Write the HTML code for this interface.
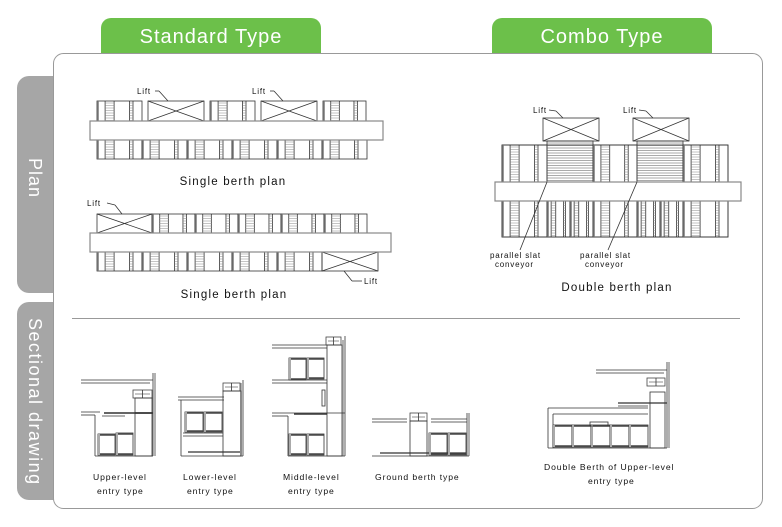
<!DOCTYPE html>
<html><head><meta charset="utf-8"><style>
html,body{margin:0;padding:0;background:#fff;width:782px;height:527px;overflow:hidden}
svg{display:block}
text{font-family:"Liberation Sans",sans-serif}
</style></head><body>
<svg id="s" width="782" height="527" viewBox="0 0 782 527" xmlns="http://www.w3.org/2000/svg">
<rect x="101" y="18" width="220" height="45" rx="10" fill="#6cc04a"/>
<rect x="492" y="18" width="220" height="45" rx="10" fill="#6cc04a"/>
<text x="211" y="43" text-anchor="middle" font-size="20" fill="#fff" letter-spacing="1">Standard Type</text>
<text x="602" y="43" text-anchor="middle" font-size="20" fill="#fff" letter-spacing="1">Combo Type</text>
<rect x="17" y="76" width="50" height="217" rx="12" fill="#a6a6a6"/>
<rect x="17" y="302" width="50" height="198" rx="12" fill="#a6a6a6"/>
<text transform="translate(29,158) rotate(90)" font-size="18" fill="#fff" letter-spacing="1">Plan</text>
<text transform="translate(29,318) rotate(90)" font-size="18" fill="#fff" letter-spacing="1.5">Sectional drawing</text>
<rect x="53.5" y="53.5" width="709" height="455" rx="10" fill="#fff" stroke="#999" stroke-width="1"/>
<line x1="72" y1="318.5" x2="740" y2="318.5" stroke="#999"/>
<g id="d" fill="none" stroke="#333" stroke-width="0.8"></g>
<g font-size="8" fill="#111" letter-spacing="0.8">
<text x="137" y="94">Lift</text>
<text x="252" y="94">Lift</text>
<text x="87" y="206">Lift</text>
<text x="364" y="284">Lift</text>
<text x="533" y="113">Lift</text>
<text x="623" y="113">Lift</text>
<text x="490" y="258">parallel slat</text>
<text x="495" y="267">conveyor</text>
<text x="580" y="258">parallel slat</text>
<text x="585" y="267">conveyor</text>
</g>
<g font-size="8.6" fill="#111" letter-spacing="0.9">
<text x="93" y="480">Upper-level</text>
<text x="97" y="494">entry type</text>
<text x="183" y="480">Lower-level</text>
<text x="187" y="494">entry type</text>
<text x="283" y="480">Middle-level</text>
<text x="288" y="494">entry type</text>
<text x="375" y="480">Ground berth type</text>
<text x="544" y="470">Double Berth of Upper-level</text>
<text x="588" y="484">entry type</text>
</g>
<g font-size="11.5" fill="#111" letter-spacing="1.2">
<text x="233" y="185" text-anchor="middle">Single berth plan</text>
<text x="234" y="298" text-anchor="middle">Single berth plan</text>
<text x="617" y="291" text-anchor="middle">Double berth plan</text>
</g>
</svg>
<script>
var g=document.getElementById('d'),h='';
function L(x1,y1,x2,y2,c,w){h+='<line x1="'+x1+'" y1="'+y1+'" x2="'+x2+'" y2="'+y2+'" stroke="'+(c||'#333')+'" stroke-width="'+(w||0.8)+'"/>';}
function R(x,y,w,hh,c,sw,f){h+='<rect x="'+x+'" y="'+y+'" width="'+w+'" height="'+hh+'" stroke="'+(c||'#333')+'" stroke-width="'+(sw||0.8)+'" fill="'+(f||'none')+'"/>';}
function rack(x,y,w,hh){R(x,y,w,hh);L(x+1,y,x+1,y+hh,'#777',1.5);
 var a=x+w*0.18,b=x+w*0.38;L(a,y,a,y+hh);L(b,y,b,y+hh);
 for(var yy=y+2;yy<y+hh;yy+=2.5)L(a,yy,b,yy,'#888',0.5);
 var c=x+w*0.72,d=x+w*0.8;L(c,y,c,y+hh);L(d,y,d,y+hh);
 for(var yy=y+2;yy<y+hh;yy+=2.5)L(c,yy,d,yy,'#888',0.5);}
function lift(x,y,w,hh){R(x,y,w,hh);L(x,y,x+w,y+hh);L(x+w,y,x,y+hh);}
function slat(x,y,w,hh){R(x,y,w,hh);for(var yy=y+2;yy<y+hh;yy+=2.5)L(x,yy,x+w,yy,'#555',0.5);}
rack(97,101,45,20);lift(148,101,56,20);rack(210,101,45,20);lift(261,101,56,20);rack(323,101,43,20);
for(var i=0;i<6;i++)rack(97+i*45,140,45,19);
R(90,121,293,19,'#888',1.2,'#fff');
L(155,91,159,91);L(159,91,168,101);L(270,91,274,91);L(274,91,283,101);
lift(97,214,55,19);for(var i=0;i<5;i++)rack(152+i*43,214,43,19);
for(var i=0;i<5;i++)rack(97+i*45,252,45,19);lift(322,252,56,19);
R(90,233,301,19,'#888',1.2,'#fff');
L(107,203,115,205);L(115,205,122,214);L(344,271,352,281);L(352,281,362,281);
R(502,145,226,92);
var xs=[502,547,593,637,683];
for(var k=0;k<5;k++){var xx=xs[k],w=(k<4?xs[k+1]:728)-xx;
 if(k==1||k==3){slat(xx,141,w,41);rack(xx,201,w/2,36);rack(xx+w/2,201,w/2,36);}
 else{rack(xx,145,w,37);rack(xx,201,w,36);}}
lift(543,118,56,23);lift(633,118,56,23);
R(495,182,246,19,'#888',1.2,'#fff');
L(549,110,556,111);L(556,111,563,118);L(639,110,646,111);L(646,111,653,118);
L(547,182,520,250);L(637,182,608,250);
function sr(x,y,w,hh){R(x,y,w,hh,'#333',0.8);L(x,y+1,x+w,y+1,'#444',1.5);L(x,y+hh-1,x+w,y+hh-1,'#444',1.5);L(x+1,y,x+1,y+hh,'#aaa',2);}
function head(x,y,w){R(x,y,w,8,'#444',0.8);L(x+w/2,y,x+w/2,y+8);L(x+2,y+4,x+w-2,y+4,'#444',0.6);}
var G='#999';
L(81,380,153,380);L(81,383,150,383);L(153,373,153,456);L(155,373,155,456,G,1.5);
head(133,390,19);R(135,398,17,58);L(81,412,100,412);L(81,415,95,415);L(95,415,95,456);L(95,456,153,456);
L(104,413,152,413,'#333',1.5);L(102,416,125,416);sr(98,434,17,21);sr(116,433,17,22);L(135,413,153,413,'#333',1.5);
L(178,397,224,397);L(178,400,224,400);L(181,400,181,456);L(181,456,243,456);L(243,380,243,456);L(241,383,241,456,G,1.5);
head(223,383,17);R(223,391,18,65);sr(185,412,18,20);sr(204,412,18,20);L(183,433,223,433);L(183,436,223,436);L(188,452,240,452,'#333',1.2);
L(272,345,327,345);L(272,348,327,348);head(326,337,15);R(327,345,15,111);L(345,336,345,456);L(343,340,343,456,G,1.5);
sr(289,358,17,22);sr(307,358,17,21);L(272,380,327,380);L(272,383,327,383);R(322,390,3,16);
L(272,413,345,413);L(272,416,288,416);L(288,416,288,456);L(288,456,345,456);L(294,414,327,414,'#333',1.5);
sr(289,434,17,21);sr(307,434,17,21);
L(372,419,407,419);L(372,422,407,422);L(431,419,467,419);L(431,422,467,422);head(410,413,17);R(410,421,17,35);
L(467,413,467,456);L(469,413,469,456,G,1.5);L(372,456,469,456);L(380,453,466,453,'#333',1.2);sr(429,433,18,22);sr(448,433,18,22);
L(596,370,667,370);L(596,373,664,373);L(667,362,667,448);L(669,362,669,448,G,1.5);head(647,378,18);R(650,392,15,56);
L(618,403,667,403,'#333',1.2);L(618,406,648,406);L(548,408,648,408);L(548,408,548,448);L(548,448,667,448);L(553,414,648,414);L(553,414,553,448);
for(var i=0;i<5;i++)sr(553+i*19,425,19,22);R(590,422,18,4);
g.innerHTML=h;
</script>
</body></html>
